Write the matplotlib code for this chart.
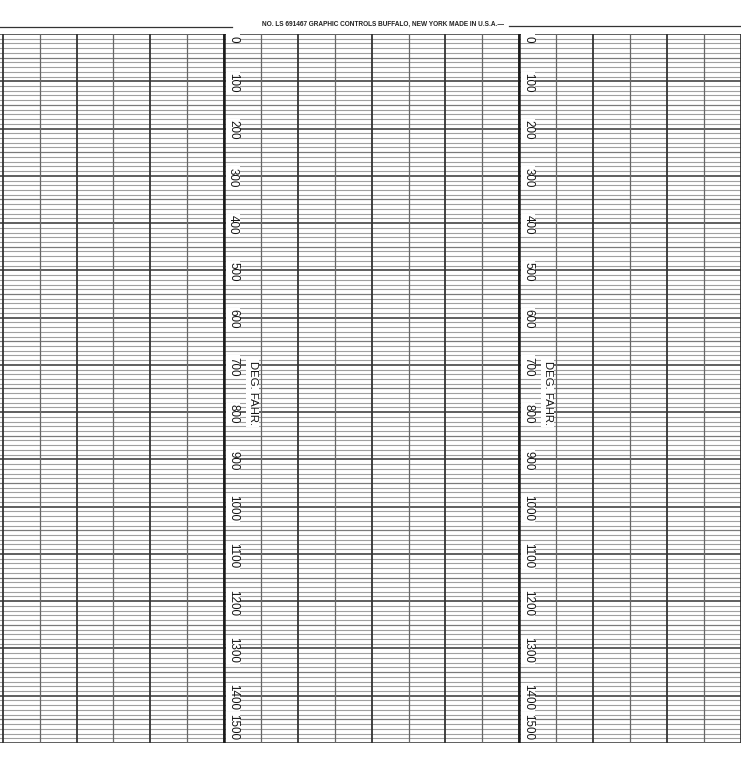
import numpy as np
import matplotlib
matplotlib.use("Agg")
import matplotlib.pyplot as plt
from matplotlib import font_manager

# ---- chart data ----
scale_labels = ["0", "100", "200", "300", "400", "500", "600", "700",
                "800", "900", "1000", "1100", "1200", "1300", "1400", "1500"]
major_temps = [0, 100, 200, 300, 400, 500, 600, 700, 800, 900, 1000,
               1100, 1200, 1300, 1400, 1500]
medium_temps = [50, 150, 250, 350, 450, 550, 650, 750, 850, 950, 1050,
                1150, 1250, 1350, 1450]
minor_step = 10
thick_cols = [0, 2, 4, 6, 8, 10, 12, 14, 16, 18, 20]
thin_cols = [1, 3, 5, 7, 9, 11, 13, 15, 17, 19]
scale_cols = [6, 14]
unit_label = "DEG. FAHR."
header_text = "NO. LS 691467 GRAPHIC CONTROLS BUFFALO, NEW YORK MADE IN U.S.A.\u2014"

names = {f.name for f in font_manager.fontManager.ttflist}
narrow = "Liberation Sans Narrow" if "Liberation Sans Narrow" in names else "Liberation Sans"

W, H = 741, 765
fig = plt.figure(figsize=(W / 100, H / 100), dpi=100)
fig.patch.set_facecolor("white")

top_px, bot_px = 34, 743
ax = fig.add_axes([0, (H - bot_px) / H, 1, (bot_px - top_px) / H])
col_w = 36.9
x0_px = 2.7
ax.set_xlim(-x0_px / col_w, (W - x0_px) / col_w)
ax.set_ylim(1500, 0)
for s in ax.spines.values():
    s.set_visible(False)
ax.set_xticks([])
ax.set_yticks([])
px = 1500 / (bot_px - top_px)

minor = [v for v in np.arange(0, 1501, minor_step) if v not in major_temps and v not in medium_temps]
for v in minor:
    ax.axhline(v, color="#a0a0a0", lw=0.8, zorder=1)
for v in medium_temps:
    ax.axhline(v, color="#7a7a7a", lw=0.9, zorder=1.2)
for v in major_temps:
    ax.axhline(v, color="#444444", lw=1.2, zorder=1.4)
for c in thin_cols:
    ax.axvline(c, color="#666666", lw=0.9, zorder=2)
for c in thick_cols:
    ax.axvline(c, color="#333333", lw=1.3, zorder=2)
for c in scale_cols:
    ax.axvline(c, color="#1a1a1a", lw=1.8, zorder=2.5)

# scale labels
lab_kw = dict(rotation=270, ha="left", zorder=4, family=[narrow, "DejaVu Sans"],
              fontsize=8.4, color="#151515",
              bbox=dict(boxstyle="square,pad=0.1", fc="white", ec="none"))
for c in scale_cols:
    for v, lab in zip(major_temps, scale_labels):
        if v == major_temps[0]:
            ax.text(c + 0.08, v + 1.5 * px, lab, va="top", **lab_kw)
        elif v == major_temps[-1]:
            ax.text(c + 0.08, v - 2.5 * px, lab, va="bottom", **lab_kw)
        else:
            ax.text(c + 0.08, v + 1.5 * px, lab, va="center", **lab_kw)
    ax.text(c + 0.77, 760, unit_label, rotation=270, ha="center", va="center",
            zorder=4, family=[narrow, "DejaVu Sans"], fontsize=8.2, color="#151515",
            bbox=dict(boxstyle="square,pad=0.15", fc="white", ec="none"))

# header line and text
fig.add_artist(plt.Line2D([0, 232 / W], [1 - 27 / H] * 2, color="#333333", lw=0.9))
fig.add_artist(plt.Line2D([509 / W, 1], [1 - 26 / H] * 2, color="#333333", lw=0.9))
t = fig.text(262 / W, 1 - 24.5 / H, header_text, ha="left", va="center",
             family=[narrow, "DejaVu Sans"], fontsize=6.0, fontweight="bold", color="#222222")
fig.canvas.draw()
bb = t.get_window_extent()
t.set_fontsize(6.0 * (509 - 262) / bb.width)

fig.savefig("out.png", dpi=100, facecolor="white")
